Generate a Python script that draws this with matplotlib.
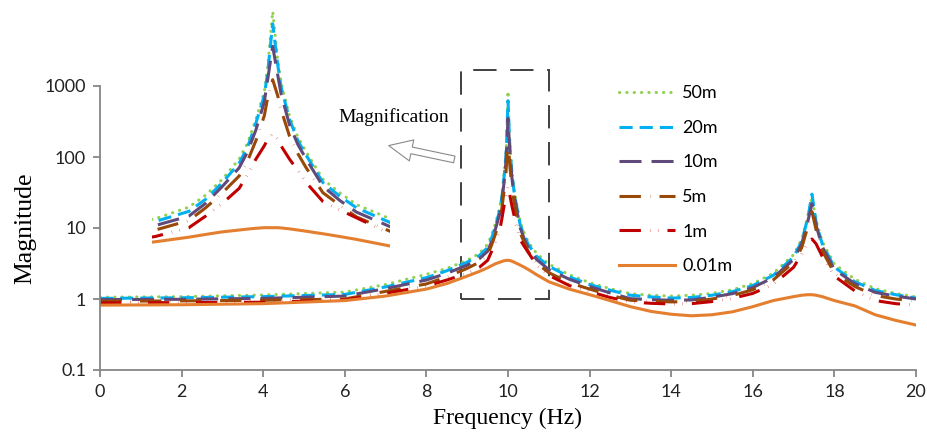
import matplotlib
matplotlib.use('Agg')
import matplotlib.pyplot as plt
from matplotlib.ticker import FixedLocator, FixedFormatter, NullLocator
from matplotlib.patches import Rectangle, FancyArrowPatch

# frequency grid (Hz)
freq = [0, 2, 4, 6, 7, 8, 8.5, 9, 9.3, 9.5, 9.6, 9.7, 9.8, 9.85, 9.9, 9.95, 9.97, 10,
        10.03, 10.05, 10.1, 10.15, 10.2, 10.3, 10.4, 10.5, 10.7, 11, 11.5, 12, 12.5, 13, 13.5,
        14, 14.5, 15, 15.5, 16, 16.5, 17, 17.2, 17.35, 17.45, 17.55, 17.7, 18, 18.5, 19,
        19.5, 20]

mag_50m = [1.06, 1.08, 1.14, 1.25, 1.6, 2.23, 2.7, 3.5, 4.4, 5.9, 8.0, 12, 20, 30, 55, 110, 200, 850,
           250, 140, 60, 35, 24, 12, 8.5, 6.3, 4.4, 3.1, 2.2, 1.7, 1.4, 1.19, 1.13,
           1.1, 1.13, 1.2, 1.35, 1.65, 2.3, 4.2, 7, 15, 27, 13, 6.5, 3.1, 1.9, 1.4,
           1.2, 1.07]
mag_20m = [1.02, 1.04, 1.08, 1.16, 1.48, 2.0, 2.5, 3.3, 4.1, 5.3, 7.2, 11, 18, 27, 50, 100, 180, 620,
           220, 125, 55, 32, 22, 11, 7.8, 5.8, 4.0, 2.9, 2.05, 1.6, 1.33, 1.13, 1.07,
           1.03, 1.05, 1.13, 1.27, 1.55, 2.15, 3.9, 6.5, 14, 30, 12, 6.0, 2.8, 1.75, 1.32,
           1.15, 1.03]
mag_10m = [0.98, 0.99, 1.02, 1.1, 1.4, 1.85, 2.3, 3.0, 3.7, 4.7, 6.5, 10, 16, 24, 42, 85, 150, 350,
           170, 105, 48, 29, 20, 10, 7.0, 5.2, 3.6, 2.6, 1.9, 1.5, 1.22, 1.01, 0.98,
           0.96, 0.97, 1.06, 1.19, 1.45, 2.0, 3.6, 6.0, 12.5, 22, 11, 5.5, 2.6, 1.65, 1.24,
           1.1, 1.0]
mag_5m = [0.93, 0.94, 0.96, 1.0, 1.28, 1.63, 2.05, 2.7, 3.3, 4.2, 5.8, 8.5, 13, 19, 32, 60, 95, 150,
          100, 70, 36, 23, 16, 8.5, 6.2, 4.6, 3.2, 2.35, 1.7, 1.38, 1.13, 0.96, 0.93,
          0.91, 0.92, 1.0, 1.12, 1.35, 1.85, 3.3, 5.3, 10.5, 17, 9.5, 4.8, 2.3, 1.5, 1.12,
          1.0, 0.93]
mag_1m = [0.88, 0.89, 0.9, 0.97, 1.2, 1.52, 1.85, 2.3, 2.8, 3.5, 4.7, 6.5, 9.5, 13.5, 20, 28, 33, 38,
          33, 28, 20, 15, 11, 6.8, 5.5, 4.5, 3.0, 2.15, 1.55, 1.27, 1.05, 0.91, 0.87,
          0.85, 0.86, 0.92, 1.02, 1.2, 1.6, 2.8, 4.3, 6.3, 7.0, 6.0, 4.0, 2.1, 1.3, 0.95,
          0.86, 0.82]
mag_001m = [0.82, 0.83, 0.86, 0.95, 1.1, 1.38, 1.65, 2.1, 2.45, 2.75, 2.95, 3.15, 3.3, 3.38, 3.45, 3.5, 3.5, 3.5,
            3.5, 3.48, 3.4, 3.3, 3.2, 3.0, 2.8, 2.6, 2.2, 1.75, 1.38, 1.15, 0.95, 0.78, 0.67,
            0.61, 0.58, 0.6, 0.66, 0.78, 0.95, 1.08, 1.13, 1.15, 1.15, 1.13, 1.08, 0.95, 0.8, 0.6,
            0.5, 0.43]

labels = ['50m', '20m', '10m', '5m', '1m', '0.01m']
series = [mag_50m, mag_20m, mag_10m, mag_5m, mag_1m, mag_001m]
colors = ['#92D050', '#00B0F0', '#604A7B', '#984807', '#C00000', '#E47F2F']
styles = [(0, (0.1, 2.3)), (0, (4.3, 2.3)), (0, (7.2, 3.3)), (0, (7, 3, 0.1, 3)),
          (0, (7, 3, 0.1, 2.5, 0.1, 3)), '-']

W, H = 928, 447
fig = plt.figure(figsize=(W / 100, H / 100), dpi=100)
ax = fig.add_axes([100 / W, (H - 370) / H, 816 / W, 284 / H])

for y, lab, c, ls in zip(series, labels, colors, styles):
    ax.plot(freq, y, color=c, linestyle=ls, lw=2.2, label=lab,
            dash_capstyle='round' if lab == '50m' else 'butt')

ax.set_yscale('log')
ax.set_xlim(0, 20)
ax.set_ylim(0.1, 1000)
ax.set_xticks(range(0, 21, 2))
ax.yaxis.set_major_locator(FixedLocator([0.1, 1, 10, 100, 1000]))
ax.yaxis.set_major_formatter(FixedFormatter(['0.1', '1', '10', '100', '1000']))
ax.yaxis.set_minor_locator(NullLocator())

for s in ['top', 'right']:
    ax.spines[s].set_visible(False)
for s in ['left', 'bottom']:
    ax.spines[s].set_color('#868686')
    ax.spines[s].set_linewidth(1.3)
ax.tick_params(direction='out', length=5, width=1.3, color='#868686',
               labelsize=13, labelcolor='#222222', pad=5)
for t in ax.get_xticklabels() + ax.get_yticklabels():
    t.set_fontfamily('Lato')

ax.set_xlabel('Frequency (Hz)', fontsize=17, family='Liberation Serif', labelpad=6)
ax.set_ylabel('Magnitude', fontsize=18.5, family='Liberation Serif', labelpad=6)

# dashed box around the main resonance
ax.add_patch(Rectangle((8.85, 1.0), 11.0 - 8.85, 1700 - 1.0, fill=False, ec='#404040',
                       lw=1.4, ls=(0, (12, 7)), clip_on=False))

leg = ax.legend(loc='upper left', bbox_to_anchor=(603 / W, 1 - 69 / H),
                bbox_transform=fig.transFigure, frameon=False, handlelength=3.1,
                labelspacing=1.03, handletextpad=0.4, prop={'family': 'Lato', 'size': 13})

# magnified inset of the 10 Hz resonance
ins = fig.add_axes([152 / W, (H - 255) / H, 238 / W, 250 / H])
for y, lab, c, ls in zip(series, labels, colors, styles):
    ins.plot(freq, y, color=c, linestyle=ls, lw=2.2,
             dash_capstyle='round' if lab == '50m' else 'butt')
ins.set_yscale('log')
ins.set_xlim(9.28, 10.7)
ins.set_ylim(1.75, 1000)
ins.axis('off')

fig.text(338 / W, 1 - 117 / H, 'Magnification', family='Liberation Serif', fontsize=14,
         va='center', ha='left')
fig.patches.append(FancyArrowPatch(
    (457 / W, 1 - 160 / H), (386 / W, 1 - 145 / H), transform=fig.transFigure,
    arrowstyle='simple,head_width=1.1,head_length=1.2,tail_width=0.35',
    mutation_scale=14, fc='white', ec='#8a8a8a', lw=0.8))

fig.savefig('out.png', dpi=100, facecolor='white')
